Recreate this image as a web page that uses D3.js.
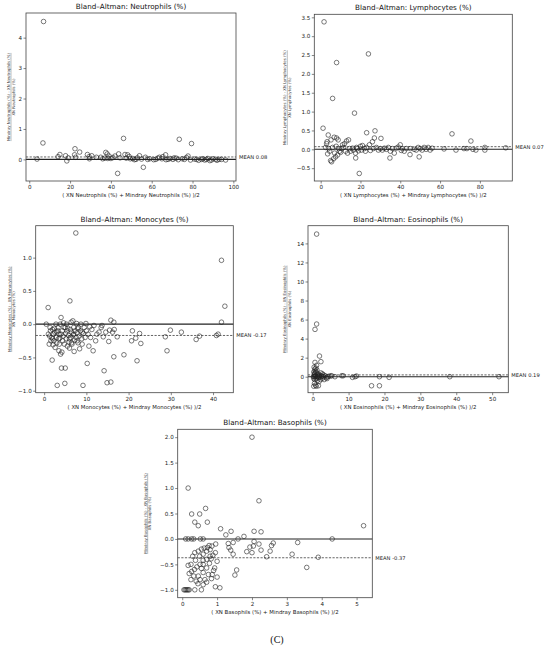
<!DOCTYPE html>
<html>
<head>
<meta charset="utf-8">
<script src="https://cdn.jsdelivr.net/npm/d3@7"></script>
<style>
  body { margin: 0; background: #fff; }
  svg { display: block; font-family: "DejaVu Sans", sans-serif; }
  .tick text { fill: #222; }
</style>
</head>
<body>
<svg width="550" height="649"></svg>
<script>
// data: [mean of the two analysers, relative difference]
var cellNames = ['Neutrophils', 'Lymphocytes', 'Monocytes', 'Eosinophils', 'Basophils'];
var meanVals = [0.08, 0.07, -0.17, 0.19, -0.37];

var neutrophils = [[3.8,0.01],[6.7,0.54],[7,4.53],[14.1,0.09],[15,0.16],[17.8,0.12],[18.4,-0.05],[19.1,0.05],[22.4,0.35],[22.2,0.15],[22.7,0.07],[24.7,0.24],[28.5,0.16],[29.3,0.09],[29.5,0.02],[30.6,0.12],[32.9,0.07],[35,0.07],[36,0.02],[37,0.04],[37.5,0.23],[38.2,0.18],[38.5,0.03],[39.1,0.11],[40,0.03],[41,0.06],[42,0.11],[43.3,-0.46],[43.8,0.18],[44.5,0.05],[46.2,0.69],[46.9,0.16],[47.5,0.04],[48.2,0.15],[49,0.09],[49.5,0.02],[50.7,0.03],[51.5,-0.01],[52.3,0],[53,0.05],[54,0.12],[55,0.01],[55.9,-0.26],[56.9,0.07],[58,0],[59,0.02],[61,-0.01],[62,0],[63,0.04],[63.8,0.07],[65,0.02],[65.5,0.09],[66.8,0.15],[67,-0.01],[68,0],[69,0.03],[70.4,0],[71,0.05],[72,0.04],[73,-0.01],[73.5,0.66],[75,0.02],[76,0],[77,0.06],[77.8,0.11],[79,-0.02],[79.5,0.52],[81,0.01],[82,0],[83,-0.03],[84.4,0],[85,0.02],[86,-0.02],[86.8,0],[87.5,0.03],[88.5,-0.04],[89.3,-0.02],[90,0.02],[91.4,0],[92,-0.03],[93,0],[94.2,0],[96.2,-0.02]];

var lymphocytes = [[1.7,3.38],[8,2.3],[24,2.53],[6,1.35],[17,0.96],[1.2,0.56],[3.8,0.38],[23.1,0.44],[27.3,0.49],[30.3,0.29],[66,0.41],[75.5,0.22],[19.4,-0.64],[17.6,-0.23],[34.8,-0.23],[44.9,-0.14],[49.5,-0.2],
  [2.5,0.05],[3,0.15],[3.2,0.2],[3.5,-0.12],[4,0.02],[4.5,-0.05],[5,-0.3],[5.2,0.25],[5.5,-0.33],[6,0.05],[6.5,-0.25],[6.8,0.32],[7,-0.1],[7.5,-0.2],[7.8,0.08],[8,0.3],[8.5,-0.15],[8.8,0.25],[9,0.02],[9.5,-0.05],[10,-0.08],[10.5,0.02],[11,0.12],[11.5,0.05],[12,0.15],[12.5,-0.05],[13,0.22],[13.5,-0.1],[14,0.25],[14.5,0.02],[15,-0.05],[16,0.03],[16.5,-0.02],[17.5,-0.1],[18,0.05],[18.5,0.02],[19,-0.04],[20,0.08],[20.5,-0.02],[21,0.1],[22,0.02],[22.5,-0.05],[23,0.05],[24.5,0.12],[25,-0.03],[26,0.2],[26.5,0.02],[27,0.3],[28,0.05],[29,-0.02],[30,0.02],[31,-0.02],[32,0.03],[33,0],[34,0.05],[35,-0.05],[36,0.02],[37,-0.1],[38,0.03],[39,0.06],[40,0.12],[40.5,-0.03],[41,0.02],[42,-0.05],[43,0.02],[45,0.02],[47,0],[48,-0.02],[49,0.05],[50,0.02],[51,-0.02],[52,0.05],[53,0],[54,0.05],[55,-0.02],[56,0.03],[62,0.01],[68,-0.02],[72,0.02],[73.5,0.02],[76.5,0],[78,-0.02],[82.5,0.05],[82.5,-0.02],[93,0.04]];

var monocytes = [[0.5,0],[0.95,0.25],[1,-0.15],[1.2,-0.3],[1.3,-0.18],[1.5,-0.1],[1.6,-0.25],[1.8,-0.2],[1.9,-0.54],[2,-0.08],[2.1,-0.31],[2.2,-0.15],[2.3,-0.25],[2.5,-0.12],[2.6,-0.35],[2.8,0],[2.9,-0.2],[3,-0.28],[3.1,-0.92],[3.2,-0.1],[3.3,-0.05],[3.4,-0.22],[3.5,-0.15],[3.6,-0.3],[3.7,-0.21],[3.8,0],[3.9,-0.45],[4,0.1],[4.1,-0.66],[4.2,-0.42],[4.3,-0.1],[4.4,-0.25],[4.5,-0.18],[4.6,0.02],[4.7,-0.05],[4.8,-0.3],[4.9,-0.89],[5,-0.66],[5.1,-0.14],[5.2,-0.22],[5.3,0],[5.4,-0.1],[5.5,-0.33],[5.6,-0.06],[5.8,-0.17],[5.9,-0.27],[6,-0.36],[6.1,0.35],[6.2,-0.08],[6.3,-0.2],[6.4,0.03],[6.5,-0.12],[6.6,-0.3],[6.8,0.05],[6.9,-0.16],[7,-0.05],[7.1,-0.41],[7.2,-0.24],[7.3,-0.1],[7.5,1.37],[7.6,-0.2],[7.7,0.01],[7.8,-0.13],[8,-0.28],[8.1,-0.05],[8.3,-0.18],[8.4,-0.37],[8.6,-0.1],[8.7,0],[8.9,-0.22],[9,-0.3],[9.2,-0.92],[9.3,-0.14],[9.5,-0.05],[9.7,-0.2],[9.9,0.01],[10,-0.1],[10.2,-0.59],[10.4,-0.15],[10.6,-0.33],[10.8,-0.04],[11,-0.2],[11.3,-0.08],[11.6,-0.4],[11.8,-0.02],[12.2,-0.25],[12.5,-0.15],[13,-0.12],[13.5,-0.05],[13.7,-0.02],[14,-0.19],[14.2,-0.7],[14.6,-0.12],[14.9,-0.88],[15.3,-0.26],[15.5,-0.09],[15.8,0.06],[15.8,-0.87],[16.2,-0.12],[16.5,0.03],[16.5,-0.49],[16.6,-0.08],[17.3,-0.19],[18.9,-0.46],[20.7,-0.25],[20.9,-0.1],[21.7,-0.21],[22,-0.55],[22.6,-0.14],[22.9,-0.29],[28.7,-0.19],[29.1,-0.4],[29.9,-0.09],[32.5,-0.12],[36,-0.23],[36.8,-0.18],[40.8,-0.17],[41.2,-0.15],[42,0.96],[42,0.03],[42.8,0.27],
  [1.4,-0.05],[2.4,-0.06],[3,-0.12],[4,-0.15],[5,-0.05],[6,-0.22],[7,-0.15],[8,-0.07],[9,-0.12],[3.5,-0.4],[2,-0.22],[6.5,-0.28],[7.8,-0.25]];

var eosinophils = [[1.1,14.98],[0.65,4.97],[1.1,5.53],[1.9,2.17],[2.3,1.58],[0.65,1.5],[0.4,1],[0.6,0.8],[0.9,0.9],[1.2,0.7],[0.3,0.5],[0.7,0.4],[1,0.5],[1.4,0.3],[0.5,0.2],[0.8,0.1],[1.5,0.2],[2,0.15],[2.5,0.1],[3,0.2],[3.5,0.1],[0.3,-0.2],[0.6,-0.3],[1,-0.2],[1.3,-0.4],[1.8,-0.5],[0.5,-0.7],[0.8,-0.9],[0.3,-1],[1,-1],[1.6,-0.95],[2.2,-0.3],[2.8,-0.15],[3.2,-0.3],[3.8,-0.1],[4.2,0],[4.5,0.05],[5,0.08],[5.3,0.1],[6.2,0],[8.1,0.1],[8.5,0.1],[11.1,-0.07],[11.8,0],[12.2,0.07],[16.4,-0.95],[18.6,-0.95],[18.6,0],[21.3,-0.07],[38.2,0],[51.9,0],
  [0.2,0],[0.4,0],[0.6,0],[0.9,0],[1.2,0],[1.5,0],[2,0],[2.6,0],[3,0],[1.7,-0.1],[2.3,0.4],[0.7,0.6],[1.1,1.2],[0.5,0.3],[1.8,0.1],[2.7,0.3],[4,-0.2]];

var basophils = [[2.0,2.0],[2.2,0.75],[0.17,1.0],[5.2,0.26],[4.3,0],[0.27,0.49],[0.5,0.49],[0.67,0.6],[0.36,0.33],[0.46,0.26],[0.72,0.33],[1.1,0.2],[1.25,0.08],[1.4,0.15],[1.6,0],[1.77,0.05],[2.06,0.15],[2.26,0.14],[2.06,-0.05],[2.04,-0.14],[1.94,-0.16],[1.85,-0.25],[2.0,-0.27],[2.2,-0.1],[2.26,-0.22],[2.42,-0.35],[2.52,-0.24],[2.56,-0.13],[2.61,-0.08],[3.15,-0.3],[3.31,-0.07],[3.57,-0.56],[3.9,-0.36],[1.56,-0.61],[1.51,-0.71],[1.32,-0.09],[1.34,-0.17],[1.39,-0.22],[1.46,-0.3],[1.46,-0.07],
  [0.1,0],[0.17,0],[0.27,0],[0.33,0],[0.52,0],[0.6,0],
  [0.05,-1],[0.08,-1],[0.11,-1],[0.14,-1],[0.17,-1],[0.2,-1],[0.36,-1],[0.55,-1],
  [0.96,-0.1],[0.77,-0.13],[0.72,-0.17],[0.63,-0.18],[0.55,-0.2],[0.46,-0.24],[0.36,-0.27],[0.3,-0.34],[0.17,-0.52],[0.27,-0.64],[0.33,-0.73],[0.4,-0.83],[0.46,-0.73],[0.6,-0.66],[0.7,-0.57],[0.78,-0.48],[0.83,-0.39],[0.88,-0.32],[0.95,-0.27],[1.0,-0.44],[0.93,-0.57],[0.86,-0.7],[0.84,-0.78],[0.95,-0.94],[1.08,-0.96],[1.0,-0.75],[0.6,-0.9],[0.51,-0.8],[0.42,-0.55],[0.51,-0.5],[0.6,-0.42],[0.7,-0.4],[0.8,-0.34],[0.5,-0.34],[0.6,-0.3],[0.7,-0.24],[0.8,-0.21],[0.85,-0.14],[0.6,-0.5],[0.25,-0.5],[0.35,-0.6],[0.45,-0.88],[0.65,-0.8],[0.75,-0.7],[0.9,-0.62],[0.55,-0.58],[0.38,-0.42],[0.2,-0.68],[0.25,-0.8],[0.7,-0.85]];

var allData = [neutrophils, lymphocytes, monocytes, eosinophils, basophils];

// axis ranges and ticks
var xDomains = [[-1.6, 101.3], [-3.2, 96.3], [-2.0, 44.8], [-1.3, 54.5], [-0.13, 5.45]];
var yDomains = [[-0.71, 4.81], [-0.84, 3.58], [-1.03, 1.48], [-1.68, 15.86], [-1.155, 2.155]];
var xTicks = [[0,20,40,60,80,100], [0,20,40,60,80], [0,10,20,30,40], [0,10,20,30,40,50], [0,1,2,3,4,5]];
var yTicks = [[0,1,2,3,4], [-0.5,0,0.5,1,1.5,2,2.5,3,3.5], [-1,-0.5,0,0.5,1], [0,2,4,6,8,10,12,14], [-1,-0.5,0,0.5,1,1.5,2]];
var yFmt = [d3.format('d'), d3.format('.1f'), d3.format('.1f'), d3.format('d'), d3.format('.1f')];

// panel frames: left, top, right, bottom ; y label offset
var frames = [
  {l: 26, t: 13, r: 236, b: 181, lab: 16},
  {l: 314.3, t: 14.3, r: 512.3, b: 181, lab: 28},
  {l: 35.7, t: 225.7, r: 233.3, b: 392.7, lab: 25},
  {l: 308, t: 225.7, r: 508.3, b: 392.7, lab: 22},
  {l: 177.7, t: 429.3, r: 372.3, b: 597.7, lab: 31}
];

var svg = d3.select('svg');

function panel(i) {
  var f = frames[i];
  var name = cellNames[i];
  var x = d3.scaleLinear().domain(xDomains[i]).range([f.l, f.r]);
  var y = d3.scaleLinear().domain(yDomains[i]).range([f.b, f.t]);
  var g = svg.append('g');

  var ax = g.append('g').attr('transform', 'translate(0,' + f.b + ')')
    .call(d3.axisBottom(x).tickValues(xTicks[i]).tickSize(2.5).tickPadding(1.5).tickFormat(d3.format('d')));
  var ay = g.append('g').attr('transform', 'translate(' + f.l + ',0)')
    .call(d3.axisLeft(y).tickValues(yTicks[i]).tickSize(2.5).tickPadding(1.5).tickFormat(yFmt[i]));
  [ax, ay].forEach(function(a) {
    a.select('.domain').remove();
    a.selectAll('.tick line').attr('stroke', '#333').attr('stroke-width', 0.6);
    a.selectAll('.tick text').attr('font-size', 5.6).attr('font-family', 'DejaVu Sans');
  });

  // zero and mean lines
  g.append('line').attr('x1', f.l).attr('x2', f.r).attr('y1', y(0)).attr('y2', y(0))
    .attr('stroke', '#222').attr('stroke-width', 1.1);
  g.append('line').attr('x1', f.l).attr('x2', f.r).attr('y1', y(meanVals[i])).attr('y2', y(meanVals[i]))
    .attr('stroke', '#222').attr('stroke-width', 0.7).attr('stroke-dasharray', '2.2,1.4');

  g.append('g').selectAll('circle').data(allData[i]).join('circle')
    .attr('cx', function(d) { return x(d[0]); })
    .attr('cy', function(d) { return y(d[1]); })
    .attr('r', 2.3)
    .attr('fill', 'none').attr('stroke', '#222').attr('stroke-width', 0.6);

  g.append('rect').attr('x', f.l).attr('y', f.t).attr('width', f.r - f.l).attr('height', f.b - f.t)
    .attr('fill', 'none').attr('stroke', '#444').attr('stroke-width', 0.8);

  g.append('text').attr('x', (f.l + f.r) / 2).attr('y', f.t - 4).attr('text-anchor', 'middle')
    .attr('font-size', 7.2).attr('fill', '#111').text('Bland\u2013Altman: ' + name + ' (%)');

  g.append('text').attr('x', (f.l + f.r) / 2).attr('y', f.b + 16).attr('text-anchor', 'middle')
    .attr('font-size', 5.4).attr('fill', '#222')
    .text('( XN ' + name + ' (%) + Mindray ' + name + ' (%) )/2');

  // plain hyphen for the mean label
  g.append('text').attr('x', f.r + 3).attr('y', y(meanVals[i]) + 2)
    .attr('font-size', 5.2).attr('fill', '#222')
    .text('MEAN ' + meanVals[i].toFixed(2));

  // fraction-style y label
  var cy = (f.t + f.b) / 2;
  var yl = g.append('g').attr('transform', 'translate(' + (f.l - f.lab) + ',' + cy + ') rotate(-90)');
  var num = 'Mindray ' + name + ' (%) - XN ' + name + ' (%)';
  var numText = yl.append('text').attr('x', 0).attr('y', 0).attr('text-anchor', 'middle')
    .attr('font-size', 3.9).attr('fill', '#444').text(num);
  var w = numText.node().getComputedTextLength();
  yl.append('line').attr('x1', -w / 2).attr('x2', w / 2).attr('y1', 1).attr('y2', 1)
    .attr('stroke', '#444').attr('stroke-width', 0.35);
  yl.append('text').attr('x', 0).attr('y', 4.8).attr('text-anchor', 'middle')
    .attr('font-size', 3.9).attr('fill', '#444').text('XN ' + name + ' (%)');
}

for (var i = 0; i < cellNames.length; i++) panel(i);

svg.append('text').attr('x', 277).attr('y', 643).attr('text-anchor', 'middle')
  .attr('font-family', 'Liberation Serif, serif').attr('font-size', 10)
  .attr('fill', '#111').text('(C)');
</script>
</body>
</html>
